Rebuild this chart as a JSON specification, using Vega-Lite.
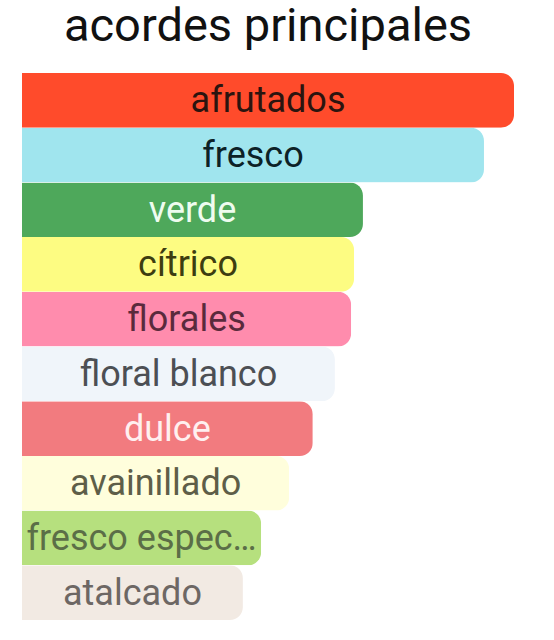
{
  "$schema": "https://vega.github.io/schema/vega-lite/v6.json",
  "description": "acordes principales",
  "autosize": {"type": "none"},
  "width": 492,
  "height": 547,
  "padding": {"left": 22, "top": 73, "right": 40, "bottom": 20},
  "background": "white",
  "title": {
    "text": "acordes principales",
    "font": "Roboto",
    "fontSize": 47,
    "fontWeight": "normal",
    "color": "#111111",
    "anchor": "middle",
    "offset": 22
  },
  "data": {
    "values": [
      {"acorde": "afrutados", "valor": 100},
      {"acorde": "fresco", "valor": 93.9},
      {"acorde": "verde", "valor": 69.3},
      {"acorde": "cítrico", "valor": 67.5},
      {"acorde": "florales", "valor": 66.9},
      {"acorde": "floral blanco", "valor": 63.6},
      {"acorde": "dulce", "valor": 59.1},
      {"acorde": "avainillado", "valor": 54.3},
      {"acorde": "fresco especiado", "valor": 48.6},
      {"acorde": "atalcado", "valor": 44.9}
    ]
  },
  "transform": [{"calculate": "datum.valor / 2", "as": "centro"}],
  "encoding": {
    "y": {
      "field": "acorde",
      "type": "nominal",
      "sort": null,
      "axis": null,
      "scale": {"paddingInner": 0, "paddingOuter": 0}
    }
  },
  "layer": [
    {
      "mark": {"type": "bar", "cornerRadiusEnd": 13},
      "encoding": {
        "x": {
          "field": "valor",
          "type": "quantitative",
          "axis": null,
          "scale": {"domain": [0, 100], "nice": false}
        },
        "color": {
          "field": "acorde",
          "type": "nominal",
          "legend": null,
          "scale": {
            "domain": ["afrutados", "fresco", "verde", "cítrico", "florales", "floral blanco", "dulce", "avainillado", "fresco especiado", "atalcado"],
            "range": ["#FF4B2B", "#A0E5EE", "#4EA85B", "#FDFC82", "#FF8CAD", "#F0F5FA", "#F27B7F", "#FFFEDC", "#B6E07E", "#F2EAE3"]
          }
        }
      }
    },
    {
      "mark": {
        "type": "text",
        "font": "Roboto",
        "fontSize": 36,
        "align": "center",
        "baseline": "middle",
        "dy": 1,
        "limit": 234
      },
      "encoding": {
        "x": {"field": "centro", "type": "quantitative"},
        "text": {"field": "acorde"},
        "color": {
          "field": "acorde",
          "type": "nominal",
          "legend": null,
          "scale": {
            "domain": ["afrutados", "fresco", "verde", "cítrico", "florales", "floral blanco", "dulce", "avainillado", "fresco especiado", "atalcado"],
            "range": ["#2b140f", "#0c2126", "#eefcef", "#3d3d10", "#5a2a3c", "#4c4f54", "#fff0f0", "#5e5e48", "#5b6e47", "#6d6764"]
          }
        }
      }
    }
  ],
  "resolve": {"scale": {"color": "independent"}},
  "config": {"view": {"stroke": null}}
}
